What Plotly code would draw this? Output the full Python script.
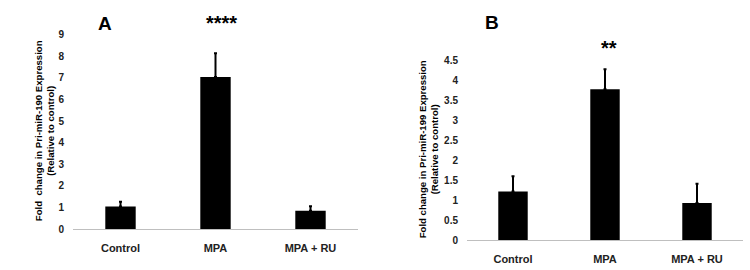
import plotly.graph_objects as go

categories = ["Control", "MPA", "MPA + RU"]
values_a = [1.05, 7.04, 0.85]
err_a = [0.22, 1.10, 0.21]
values_b = [1.22, 3.78, 0.93]
err_b = [0.38, 0.50, 0.48]
yticks_a = [0, 1, 2, 3, 4, 5, 6, 7, 8, 9]
yticks_b = [0, 0.5, 1, 1.5, 2, 2.5, 3, 3.5, 4, 4.5]

W, H = 750, 270
FONT = "Liberation Sans"

def px(x):
    return x / W

def py(y):
    return 1 - y / H

fig = go.Figure()
for vals, errs, xa, ya in [(values_a, err_a, "x", "y"), (values_b, err_b, "x2", "y2")]:
    fig.add_trace(go.Bar(
        x=categories, y=vals, xaxis=xa, yaxis=ya,
        marker=dict(color="black", line=dict(width=0)),
        width=0.32,
        error_y=dict(type="data", array=errs, arrayminus=[0] * len(errs),
                     symmetric=False, color="black", thickness=2, width=1.5),
        showlegend=False,
    ))

axis_x = dict(showgrid=False, zeroline=False, showline=True, linecolor="#bfbfbf",
              linewidth=1, ticks="", tickfont=dict(family=FONT, size=11, color="#222", weight="bold"),
              range=[-0.5, 2.5], fixedrange=True, ticklabelstandoff=9)
axis_y = dict(showgrid=False, zeroline=False, showline=False, ticks="",
              tickfont=dict(family=FONT, size=10, color="#222", weight="bold"), fixedrange=True)

fig.update_layout(
    width=W, height=H, margin=dict(l=0, r=0, t=0, b=0),
    paper_bgcolor="white", plot_bgcolor="white",
    xaxis=dict(axis_x, domain=[px(73), px(358)], anchor="y"),
    yaxis=dict(axis_y, domain=[py(233.5), py(30)], range=[0, 9], tickvals=yticks_a,
               anchor="x", ticklabelstandoff=8),
    xaxis2=dict(axis_x, domain=[px(467), px(743)], anchor="y2"),
    yaxis2=dict(axis_y, domain=[py(245), py(57)], range=[0, 4.5], tickvals=yticks_b,
                ticktext=[f"{v:g}" for v in yticks_b], anchor="x2", ticklabelstandoff=8),
)

def ann(text, x, y, size, angle=0):
    fig.add_annotation(text=text, x=px(x), y=py(y), xref="paper", yref="paper",
                       showarrow=False, textangle=angle, xanchor="center", yanchor="middle",
                       font=dict(family=FONT, size=size, color="black", weight="bold"))

ann("A", 105, 18, 19)
ann("B", 492, 17, 19)
ann("****", 221, 18, 20)
ann("**", 609, 44, 20)
ann("Fold  change in Pri-miR-190 Expression<br>(Relative to control)", 44, 131, 9.6, -90)
ann("Fold change in Pri-miR-199 Expression<br>(Relative to control)", 428, 150, 9.6, -90)

fig.write_html("out.html")
